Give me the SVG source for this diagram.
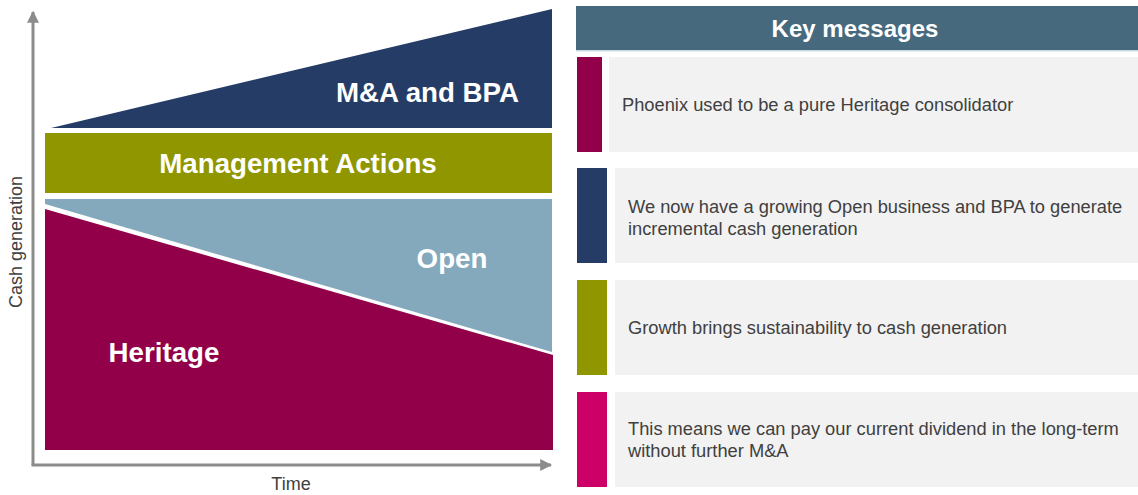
<svg xmlns="http://www.w3.org/2000/svg" width="1138" height="495" viewBox="0 0 1138 495">
<style>
.lbl{font-family:"Liberation Sans",Arial,sans-serif;font-weight:bold;fill:#ffffff;font-size:27.7px}
.msg{font-family:"Liberation Sans",Arial,sans-serif;fill:#404040;font-size:18.3px}
.ax{font-family:"Liberation Sans",Arial,sans-serif;fill:#404040;font-size:18px}
.box{fill:#f2f2f2}
</style>
<defs>
<marker id="arr" viewBox="0 0 10 10" refX="9" refY="5" markerWidth="4" markerHeight="4" markerUnits="strokeWidth" orient="auto">
<path d="M0,0 L10,5 L0,10 z" fill="#8c8c8c"/>
</marker>
</defs>
<rect width="1138" height="495" fill="#ffffff"/>
<g id="connectors">
<path d="M33,465 L33,12" stroke="#8c8c8c" stroke-width="3" fill="none" marker-end="url(#arr)"/>
<path d="M31.5,465 L551,465" stroke="#8c8c8c" stroke-width="3" fill="none" marker-end="url(#arr)"/>
</g>
<g id="ma">
<polygon points="51,128 552,9 552,128" fill="#253d66"/>
<text class="lbl" x="519" y="102" text-anchor="end">M&amp;A and BPA</text>
</g>
<g id="mgmt">
<rect x="45" y="133" width="507" height="60" fill="#8f9600"/>
<text class="lbl" x="298" y="173" text-anchor="middle">Management Actions</text>
</g>
<g id="open">
<polygon points="45,199 552,199 552,352 45,204" fill="#84a9bd"/>
<text class="lbl" x="452" y="268" text-anchor="middle">Open</text>
</g>
<g id="heritage">
<polygon points="45,209 553,355 553,450 45,450" fill="#910048"/>
<text class="lbl" x="164" y="362" text-anchor="middle">Heritage</text>
</g>
<g id="axis-labels">
<text class="ax" x="291" y="490" text-anchor="middle">Time</text>
<text class="ax" transform="translate(22,242) rotate(-90)" text-anchor="middle">Cash generation</text>
</g>
<g id="header">
<rect x="576" y="6" width="562" height="45" fill="#46697e"/>
<rect x="576" y="50" width="562" height="1.5" fill="#c9dbe1"/>
<text x="855" y="37" text-anchor="middle" style="font-family:'Liberation Sans',Arial,sans-serif;font-weight:bold;fill:#ffffff;font-size:24px">Key messages</text>
</g>
<g id="msg1">
<rect x="577" y="57" width="25" height="95" fill="#910048"/>
<rect class="box" x="609" y="57" width="529" height="95"/>
<text class="msg" x="622" y="111">Phoenix used to be a pure Heritage consolidator</text>
</g>
<g id="msg2">
<rect x="577" y="168" width="30" height="95" fill="#253d66"/>
<rect class="box" x="615" y="168" width="523" height="95"/>
<text class="msg" x="628" y="213">We now have a growing Open business and BPA to generate</text>
<text class="msg" x="628" y="235">incremental cash generation</text>
</g>
<g id="msg3">
<rect x="577" y="280" width="30" height="95" fill="#8f9600"/>
<rect class="box" x="615" y="280" width="523" height="95"/>
<text class="msg" x="628" y="334">Growth brings sustainability to cash generation</text>
</g>
<g id="msg4">
<rect x="577" y="392" width="30" height="95" fill="#cc0066"/>
<rect class="box" x="615" y="392" width="523" height="95"/>
<text class="msg" x="628" y="435">This means we can pay our current dividend in the long-term</text>
<text class="msg" x="628" y="457">without further M&amp;A</text>
</g>
</svg>
